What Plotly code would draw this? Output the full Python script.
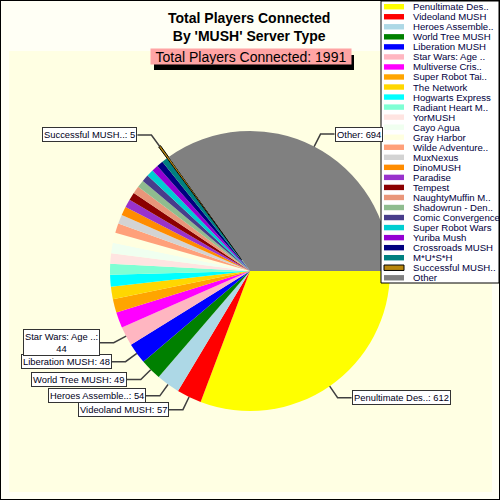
import math
import plotly.graph_objects as go

# data
labels = [
    "Penultimate Des..", "Videoland MUSH", "Heroes Assemble..", "World Tree MUSH",
    "Liberation MUSH", "Star Wars: Age ..", "Multiverse Cris..", "Super Robot Tai..",
    "The Network", "Hogwarts Express", "Radiant Heart M..", "YorMUSH", "Cayo Agua",
    "Gray Harbor", "Wilde Adventure..", "MuxNexus", "DinoMUSH", "Paradise", "Tempest",
    "NaughtyMuffin M..", "Shadowrun - Den..", "Comic Convergence", "Super Robot Wars",
    "Yuriba Mush", "Crossroads MUSH", "M*U*S*H", "Successful MUSH..", "Other",
]
players = [612, 57, 54, 49, 48, 44, 36, 31, 29, 27, 25, 24, 24, 23, 22, 21, 20, 19, 18,
           17, 17, 16, 16, 15, 15, 13, 5, 694]
colors = [
    "#FFFF00", "#FF0000", "#ADD8E6", "#008000", "#0000FF", "#FFB6C1", "#FF00FF", "#FFA500",
    "#FFD700", "#00FFFF", "#7FFFD4", "#FFE4E1", "#F0FFF0", "#FFFFE0", "#FFA07A", "#D3D3D3",
    "#FF8C00", "#9932CC", "#8B0000", "#E9967A", "#8FBC8F", "#483D8B", "#00CED1", "#9400D3",
    "#000080", "#008080", "#B8860B", "#808080",
]
labelled = [0, 1, 2, 3, 4, 5, 26, 27]   # slices that get a callout box
two_line = [5]
pulled = 26
total = sum(players)

W = H = 500
CX, CY, R = 250, 271, 140
PULL = 0.1
FONT = "Liberation Sans"


def px(x):
    return x / W


def py(y):
    return 1 - y / H


fig = go.Figure()

# ======================
# PIE
# ======================
half = R * (1 + PULL)
fig.add_trace(go.Pie(
    labels=labels, values=players, sort=False,
    direction="clockwise", rotation=90,
    marker=dict(colors=colors,
                line=dict(color="black", width=[1 if i == pulled else 0 for i in range(len(players))])),
    pull=[PULL if i == pulled else 0 for i in range(len(players))],
    textinfo="none", hoverinfo="label+value",
    domain=dict(x=[px(CX - half), px(CX + half)], y=[py(CY + half), py(CY - half)]),
    showlegend=False,
))

shapes = [
    dict(type="rect", xref="paper", yref="paper", x0=px(9), x1=px(492), y0=py(492), y1=py(51),
         fillcolor="#FFFFE3", line=dict(width=0), layer="below"),
    dict(type="rect", xref="paper", yref="paper", x0=0, x1=1, y0=0, y1=1,
         line=dict(color="black", width=2), layer="above"),
    # drop shadow behind the total box
    dict(type="rect", xref="paper", yref="paper", x0=px(154), x1=px(354), y0=py(70), y1=py(55),
         fillcolor="black", line=dict(width=0), layer="above"),
]
annotations = []

# ======================
# CALLOUTS
# ======================
cum = 0
mids = []
for v in players:
    mids.append((cum + v / 2) / total * 2 * math.pi)
    cum += v

for i in labelled:
    a = mids[i]
    r0 = R * (1 + PULL) if i == pulled else R
    x0, y0 = CX + r0 * math.cos(a), CY + r0 * math.sin(a)
    x1, y1 = CX + (r0 + 14) * math.cos(a), CY + (r0 + 14) * math.sin(a)
    side = 1 if math.cos(a) > 0 else -1
    x2 = x1 + side * 14
    shapes.append(dict(type="path", xref="paper", yref="paper",
                       path=f"M {px(x0)},{py(y0)} L {px(x1)},{py(y1)} L {px(x2)},{py(y1)}",
                       line=dict(color="#404040", width=1.5), layer="above"))
    sep = "<br>" if i in two_line else " "
    annotations.append(dict(
        x=px(x2), y=py(y1), xref="paper", yref="paper",
        xanchor="left" if side > 0 else "right", yanchor="middle",
        text=f"{labels[i]}:{sep}{players[i]}", showarrow=False,
        font=dict(family=FONT, size=9.4, color="#000020"),
        bgcolor="white", bordercolor="#333333", borderwidth=1, borderpad=1,
    ))

# ======================
# TITLES
# ======================
annotations.append(dict(
    x=px(249), y=py(8), xref="paper", yref="paper", xanchor="center", yanchor="top",
    text="<b>Total Players Connected<br>By 'MUSH' Server Type</b>", showarrow=False,
    font=dict(family=FONT, size=14, color="black"),
))
annotations.append(dict(
    x=px(251), y=py(57), xref="paper", yref="paper", xanchor="center", yanchor="middle",
    text=f"Total Players Connected: {total}", showarrow=False, width=200, height=15, borderpad=0,
    font=dict(family=FONT, size=14, color="black"), bgcolor="#FFA4A4",
))

# ======================
# LEGEND (drawn on a hidden axis pair)
# ======================
shapes.append(dict(type="rect", xref="paper", yref="paper", x0=px(381), x1=px(499),
                   y0=py(283), y1=py(1), fillcolor="white",
                   line=dict(color="black", width=1), layer="above"))
for i, (lab, col) in enumerate(zip(labels, colors)):
    shapes.append(dict(type="rect", xref="x", yref="y", x0=3, x1=23, y0=i - 0.27, y1=i + 0.27,
                       fillcolor=col, line=dict(color="black", width=1 if i == pulled else 0),
                       layer="above"))
    annotations.append(dict(x=31, y=i, xref="x", yref="y", xanchor="left", yanchor="middle",
                            text=lab, showarrow=False, borderpad=0,
                            font=dict(family=FONT, size=9.6, color="#000040")))

fig.add_trace(go.Scatter(x=[0, 118], y=[0, 0], mode="markers", marker=dict(opacity=0),
                         hoverinfo="skip", showlegend=False))

fig.update_layout(
    width=W, height=H, margin=dict(l=0, r=0, t=0, b=0),
    paper_bgcolor="#FFFFF5", plot_bgcolor="rgba(0,0,0,0)",
    xaxis=dict(domain=[px(381), px(499)], range=[0, 118], visible=False, fixedrange=True),
    yaxis=dict(domain=[py(283), py(1)], range=[27.52, -0.568], visible=False, fixedrange=True),
    shapes=shapes, annotations=annotations, showlegend=False,
)

fig.write_html("out.html", config={"displayModeBar": False},
               post_script="document.body.style.margin='0';")
